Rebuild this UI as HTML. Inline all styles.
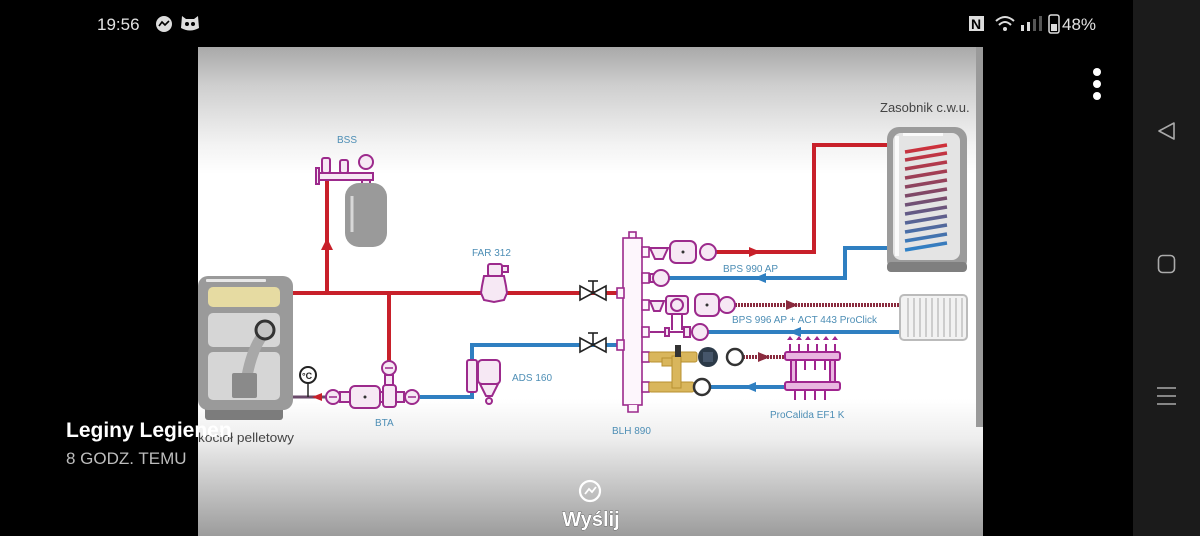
<!DOCTYPE html>
<html><head><meta charset="utf-8"><style>
html,body{margin:0;padding:0;background:#000;}
body{width:1200px;height:536px;overflow:hidden;position:relative;font-family:"Liberation Sans",sans-serif;}
svg{position:absolute;left:0;top:0;}
</style></head><body>
<svg width="1200" height="536" viewBox="0 0 1200 536" xmlns="http://www.w3.org/2000/svg">
<defs>
<linearGradient id="bg" x1="0" y1="47" x2="0" y2="536" gradientUnits="userSpaceOnUse">
<stop offset="0" stop-color="#a9a9a9"/>
<stop offset="0.08" stop-color="#cfcfcf"/>
<stop offset="0.2" stop-color="#f3f3f3"/>
<stop offset="0.26" stop-color="#ffffff"/>
<stop offset="0.72" stop-color="#ffffff"/>
<stop offset="0.8" stop-color="#eeeeee"/>
<stop offset="1" stop-color="#9c9c9c"/>
</linearGradient>
<linearGradient id="coil" x1="0" y1="145" x2="0" y2="250" gradientUnits="userSpaceOnUse">
<stop offset="0" stop-color="#d0303a"/><stop offset="0.5" stop-color="#7a4a6a"/><stop offset="1" stop-color="#2f82c8"/>
</linearGradient>
</defs>
<rect x="0" y="0" width="1200" height="536" fill="#000"/>
<!-- nav strip -->
<rect x="1133" y="0" width="67" height="536" fill="#1b1b1b"/>
<path d="M1174 123 L1159 131 L1174 139 Z" fill="none" stroke="#aaa" stroke-width="1.6" stroke-linejoin="round"/>
<rect x="1158.5" y="255.5" width="16" height="17" rx="4" fill="none" stroke="#aaa" stroke-width="1.6"/>
<g stroke="#aaa" stroke-width="1.5"><line x1="1157" y1="388" x2="1176" y2="388"/><line x1="1157" y1="396" x2="1176" y2="396"/><line x1="1157" y1="404" x2="1176" y2="404"/></g>
<!-- image -->
<rect x="198" y="47" width="785" height="489" fill="url(#bg)"/>
<rect x="976" y="47" width="7" height="380" fill="#9a9a9a"/>
<!-- status bar -->
<text x="97" y="30" font-size="17" fill="#e2e2e2">19:56</text>
<circle cx="164" cy="24" r="8" fill="#ddd"/><path d="M159 26 L162 22 L165 25 L169 21" stroke="#000" stroke-width="1.6" fill="none"/>
<path d="M182 16 L186 19 L194 19 L198 16 L199 28 Q190 33 181 28 Z" fill="#ddd"/><circle cx="187" cy="24" r="2" fill="#000"/><circle cx="193" cy="24" r="2" fill="#000"/>
<rect x="969" y="16" width="15" height="15" fill="#ddd"/><text x="971" y="29" font-size="14" font-weight="bold" fill="#000">N</text>
<path d="M996 21 Q1005 13 1014 21" stroke="#ddd" stroke-width="2" fill="none"/><path d="M999 25 Q1005 19 1011 25" stroke="#ddd" stroke-width="2" fill="none"/><circle cx="1005" cy="29" r="2" fill="#ddd"/>
<rect x="1021" y="25" width="3" height="6" fill="#ddd"/><rect x="1027" y="22" width="3" height="9" fill="#ddd"/><rect x="1033" y="19" width="3" height="12" fill="#555"/><rect x="1039" y="16" width="3" height="15" fill="#555"/>
<rect x="1049" y="15" width="10" height="18" rx="2" fill="none" stroke="#ddd" stroke-width="1.5"/><rect x="1051" y="24" width="6" height="7" fill="#ddd"/>
<text x="1062" y="30" font-size="17" fill="#e2e2e2">48%</text>
<circle cx="1097" cy="72" r="4" fill="#fff"/><circle cx="1097" cy="84" r="4" fill="#fff"/><circle cx="1097" cy="96" r="4" fill="#fff"/>

<!-- PIPES -->
<g fill="none" stroke-width="4">
<path d="M293 293 H620" stroke="#c8202a"/>
<path d="M327 293 V178" stroke="#c8202a"/>
<path d="M389 293 V362" stroke="#c8202a"/>
<path d="M716 252 H814 V145 H947" stroke="#c8202a"/>
<path d="M668 278 H845 V248 H947" stroke="#2f7fc1"/>
<path d="M420 397 H472 V345 H620" stroke="#2f7fc1"/>
<path d="M735 305 H900" stroke="#8a2a3e" stroke-dasharray="2 1"/>
<path d="M708 332 H900" stroke="#2f7fc1"/>
<path d="M743 357 H785" stroke="#8a2a3e" stroke-dasharray="2 1"/>
<path d="M710 387 H785" stroke="#2f7fc1"/>
<path d="M293 397 H326" stroke="#6a4a6a" stroke-width="3"/>
</g>
<!-- arrows -->
<path d="M321 250 L327 238 L333 250 Z" fill="#c8202a"/>
<path d="M749 247 L761 252 L749 257 Z" fill="#c8202a"/>
<path d="M766 273 L754 278 L766 283 Z" fill="#2f7fc1"/>
<path d="M786 300 L798 305 L786 310 Z" fill="#8a2a3e"/>
<path d="M801 327 L789 332 L801 337 Z" fill="#2f7fc1"/>
<path d="M758 352 L770 357 L758 362 Z" fill="#8a2a3e"/>
<path d="M756 382 L744 387 L756 392 Z" fill="#2f7fc1"/>
<path d="M322 393 L312 397 L322 401 Z" fill="#c8202a"/>

<!-- BOILER -->
<rect x="205" y="400" width="78" height="20" rx="3" fill="#7c7c7c"/>
<rect x="198" y="276" width="95" height="134" rx="10" fill="#9a9a9a"/>
<rect x="206" y="279" width="60" height="3" rx="1" fill="#e8e8e8"/>
<rect x="208" y="287" width="72" height="20" rx="5" fill="#e6dba2"/>
<rect x="208" y="313" width="72" height="34" rx="5" fill="#d6d6d6"/>
<rect x="208" y="352" width="72" height="48" rx="5" fill="#d6d6d6"/>
<path d="M262 336 Q252 350 247 376" stroke="#a8a8a8" stroke-width="11" fill="none"/>
<circle cx="265" cy="330" r="9" fill="#c4c4c4" stroke="#333" stroke-width="3"/>
<rect x="232" y="373" width="25" height="25" rx="2" fill="#8a8a8a"/>
<circle cx="308" cy="375" r="8" fill="#fff" stroke="#222" stroke-width="2"/><text x="302" y="379" font-size="9" font-weight="bold" fill="#222">°C</text>
<line x1="308" y1="383" x2="308" y2="397" stroke="#222" stroke-width="1.5"/>

<!-- BTA -->
<g stroke="#9c2a8c" stroke-width="2" fill="#f6e8f4">
<circle cx="333" cy="397" r="7"/>
<rect x="340" y="392" width="10" height="10"/>
<rect x="350" y="386" width="30" height="22" rx="5"/>
<rect x="380" y="392" width="4" height="10"/>
<rect x="383" y="385" width="13" height="22" rx="3"/>
<circle cx="389" cy="368" r="7"/>
<rect x="385" y="375" width="8" height="10"/>
<rect x="396" y="392" width="8" height="10"/>
<circle cx="412" cy="397" r="7"/>
</g>
<circle cx="365" cy="397" r="1.5" fill="#333"/>
<g stroke="#9c2a8c" stroke-width="1.5"><line x1="329" y1="397" x2="337" y2="397"/><line x1="408" y1="397" x2="416" y2="397"/><line x1="385" y1="368" x2="393" y2="368"/></g>

<!-- BSS -->
<g stroke="#9c2a8c" stroke-width="2" fill="#f6e8f4">
<rect x="318" y="173" width="55" height="7"/>
<rect x="316" y="168" width="3" height="16"/>
<rect x="322" y="158" width="8" height="15" rx="2"/>
<rect x="340" y="160" width="8" height="13" rx="2"/>
<circle cx="366" cy="162" r="7"/>
<rect x="362" y="180" width="8" height="5"/>
</g>
<rect x="345" y="183" width="42" height="64" rx="14" fill="#9a9a9a"/>
<path d="M352 196 V232" stroke="#d8d8d8" stroke-width="3"/>
<text x="337" y="143" font-size="10" fill="#4d8eb5">BSS</text>

<!-- FAR 312 -->
<g stroke="#9c2a8c" stroke-width="2" fill="#f6e8f4">
<rect x="488" y="264" width="14" height="12" rx="2"/>
<rect x="502" y="266" width="6" height="6"/>
<path d="M484 276 H504 L506 286 L507 293 L504 300 L494 302 L484 300 L481 293 L482 286 Z"/>
</g>
<text x="472" y="256" font-size="10" fill="#4d8eb5">FAR 312</text>

<!-- ADS 160 -->
<g stroke="#9c2a8c" stroke-width="2" fill="#f6e8f4">
<rect x="467" y="360" width="10" height="32" rx="2"/>
<rect x="478" y="360" width="22" height="24" rx="4"/>
<path d="M480 384 H498 L492 396 H486 Z"/>
<circle cx="489" cy="401" r="3"/>
</g>
<text x="512" y="381" font-size="10" fill="#4d8eb5">ADS 160</text>

<!-- valves -->
<g stroke="#222" stroke-width="1.6" fill="#fff">
<path d="M580 286 L593 293 L580 300 Z"/><path d="M606 286 L593 293 L606 300 Z"/>
<path d="M580 338 L593 345 L580 352 Z"/><path d="M606 338 L593 345 L606 352 Z"/>
</g>
<g stroke="#222" stroke-width="1.6"><line x1="593" y1="293" x2="593" y2="281"/><line x1="588" y1="281" x2="598" y2="281"/><line x1="593" y1="345" x2="593" y2="333"/><line x1="588" y1="333" x2="598" y2="333"/></g>

<!-- BLH 890 -->
<g stroke="#9c2a8c" stroke-width="1.6" fill="#fdf6fc">
<rect x="629" y="232" width="7" height="7"/>
<rect x="623" y="238" width="19" height="167"/>
<rect x="617" y="288" width="7" height="10"/>
<rect x="617" y="340" width="7" height="10"/>
<rect x="642" y="247" width="7" height="10"/><rect x="642" y="273" width="7" height="10"/><rect x="642" y="300" width="7" height="10"/>
<rect x="642" y="327" width="7" height="10"/><rect x="642" y="352" width="7" height="10"/><rect x="642" y="382" width="7" height="10"/>
<path d="M628 405 V412 H638 V405"/>
</g>
<text x="612" y="434" font-size="10" fill="#4d8eb5">BLH 890</text>

<!-- row 1 -->
<g stroke="#9c2a8c" stroke-width="2" fill="#f6e8f4">
<path d="M650 248 H668 L663 259 H655 Z"/>
<rect x="670" y="241" width="26" height="22" rx="6"/>
<circle cx="708" cy="252" r="8"/>
</g>
<circle cx="683" cy="252" r="1.5" fill="#333"/>
<!-- row 2 -->
<g stroke="#9c2a8c" stroke-width="2" fill="#f6e8f4"><rect x="650" y="274" width="4" height="8"/><circle cx="661" cy="278" r="8"/></g>
<!-- row 3 -->
<g stroke="#9c2a8c" stroke-width="2" fill="#f6e8f4">
<path d="M650 301 H664 L660 311 H654 Z"/>
<rect x="666" y="296" width="22" height="18" rx="3"/>
<circle cx="677" cy="305" r="6"/>
<rect x="695" y="294" width="24" height="22" rx="6"/>
<circle cx="727" cy="305" r="8"/>
<line x1="672" y1="314" x2="672" y2="330"/><line x1="682" y1="314" x2="682" y2="330"/>
</g>
<circle cx="707" cy="305" r="1.5" fill="#333"/>
<!-- row 4 -->
<g stroke="#9c2a8c" stroke-width="2" fill="#f6e8f4"><path d="M650 332 H690" fill="none"/><rect x="665" y="328" width="4" height="8"/><rect x="684" y="327" width="6" height="10"/><circle cx="700" cy="332" r="8"/></g>
<!-- row 5/6 brass -->
<g fill="#d9b65c" stroke="#b89030" stroke-width="1">
<rect x="649" y="352" width="48" height="10" rx="2"/>
<rect x="649" y="382" width="45" height="10" rx="2"/>
<rect x="672" y="356" width="9" height="32"/>
<rect x="662" y="358" width="10" height="8"/>
</g>
<rect x="675" y="345" width="6" height="12" fill="#333"/>
<circle cx="708" cy="357" r="10" fill="#2c3a48"/><rect x="703" y="352" width="10" height="10" fill="#46566a"/>
<circle cx="735" cy="357" r="8" fill="#fff" stroke="#333" stroke-width="2.5"/>
<circle cx="702" cy="387" r="8" fill="#fff" stroke="#333" stroke-width="2.5"/>

<!-- manifold -->
<g stroke="#a0258f" stroke-width="2" fill="#e9b6e0">
<rect x="785" y="352" width="55" height="8" rx="2"/>
<rect x="785" y="382" width="55" height="8" rx="2"/>
<path d="M790 344 V352 M799 344 V352 M808 344 V352 M817 344 V352 M826 344 V352 M835 344 V352"/>
<path d="M795 360 V370 M805 360 V370 M815 360 V370 M825 360 V370"/>
<path d="M795 390 V400 M805 390 V400 M815 390 V400 M825 390 V400"/>
<rect x="791" y="360" width="5" height="22"/><rect x="830" y="360" width="5" height="22"/>
</g>
<g fill="#a0258f"><path d="M787 340 h6 l-3 -4 z M796 340 h6 l-3 -4 z M805 340 h6 l-3 -4 z M814 340 h6 l-3 -4 z M823 340 h6 l-3 -4 z M832 340 h6 l-3 -4 z"/></g>
<text x="770" y="418" font-size="10" fill="#4d8eb5">ProCalida EF1 K</text>

<!-- radiator -->
<rect x="900" y="295" width="67" height="45" rx="4" fill="#f2f2f2" stroke="#bbb" stroke-width="2"/>
<g stroke="#b5b5b5" stroke-width="1.2"><path d="M908 298 V337 M914 298 V337 M920 298 V337 M926 298 V337 M932 298 V337 M938 298 V337 M944 298 V337 M950 298 V337 M956 298 V337 M962 298 V337"/></g>
<text x="732" y="323" font-size="10" fill="#4d8eb5">BPS 996 AP + ACT 443 ProClick</text>

<!-- tank -->
<rect x="887" y="127" width="80" height="145" rx="12" fill="#9b9b9b"/>
<rect x="887" y="262" width="80" height="10" rx="4" fill="#7f7f7f"/>
<rect x="893" y="133" width="67" height="127" rx="8" fill="#e4e4e4"/>
<rect x="895" y="136" width="4" height="120" fill="#fafafa"/>
<rect x="903" y="133" width="40" height="3" fill="#fafafa"/>
<g stroke="url(#coil)" stroke-width="3.5">
<path d="M905 152 L947 145 M905 160 L947 153 M905 169 L947 162 M905 178 L947 171 M905 187 L947 180 M905 196 L947 189 M905 205 L947 198 M905 214 L947 207 M905 223 L947 216 M905 232 L947 225 M905 241 L947 234 M905 250 L947 243"/>
</g>
<text x="880" y="112" font-size="13" fill="#444">Zasobnik c.w.u.</text>
<text x="723" y="272" font-size="10" fill="#4d8eb5">BPS 990 AP</text>

<!-- boiler label & overlays -->
<text x="198" y="442" font-size="13" fill="#444" textLength="96" lengthAdjust="spacingAndGlyphs">kocioł pelletowy</text>
<text x="375" y="426" font-size="10" fill="#4d8eb5">BTA</text>
<text x="66" y="437" font-size="21" font-weight="bold" fill="#fff">Leginy Legienen</text>
<text x="66" y="464" font-size="17" fill="#bdbdbd">8 GODZ. TEMU</text>
<!-- Wyślij -->
<circle cx="590" cy="491" r="10" fill="none" stroke="#fff" stroke-width="2.2"/>
<path d="M585 494 L589 489 L592 492 L596 487" stroke="#fff" stroke-width="1.8" fill="none"/>
<text x="591" y="526" font-size="20" font-weight="bold" fill="#fff" text-anchor="middle" stroke="#333" stroke-width="0.6" paint-order="stroke">Wyślij</text>
</svg>
</body></html>
